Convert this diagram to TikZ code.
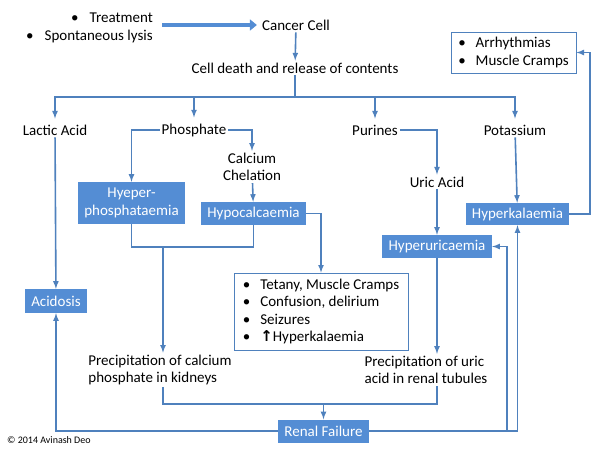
\documentclass[tikz,border=0pt]{standalone}
\usepackage{fontspec}
\setmainfont{Carlito}
\newfontfamily\symfont{DejaVu Sans}
\usetikzlibrary{arrows.meta}
\definecolor{boxblue}{RGB}{84,141,212}
\definecolor{lineblue}{RGB}{79,129,189}

\begin{document}
\begin{tikzpicture}[x=1pt,y=-1pt]
        \tikzset{every node/.style={font=\fontsize{15}{17.5}\selectfont,inner sep=2pt},
          link/.style={draw=lineblue,line width=1.6pt},
          bluebox/.style={fill=boxblue,text=white,align=center,minimum height=23pt,inner sep=1pt},
          listbox/.style={draw=lineblue,line width=0.8pt,fill=white,align=left,inner xsep=7pt,inner ysep=4pt}};
        \useasboundingbox (0,0) rectangle (600,450);
        \node[anchor=east,align=right] (cause) at (155,28) {\textbullet\hspace{11pt}Treatment\\\textbullet\hspace{11pt}Spontaneous lysis};
        \node (cancer) at (296,25) {Cancer Cell};
        \node (death) at (295,68) {Cell death and release of contents};
        \coordinate (split) at (295,97);
        \node (lactic) at (55,130) {Lactic Acid};
        \node (phos) at (194,130) {Phosphate};
        \node (purines) at (375,130) {Purines};
        \node (potas) at (515,130) {Potassium};
        \node[bluebox,minimum width=107pt,minimum height=42pt] (hyperphos) at (131.5,203) {Hyeper-\\phosphataemia};
        \node[align=center] (calcium) at (252,167) {Calcium\\Chelation};
        \node[bluebox,minimum width=105pt] (hypocal) at (253.5,213.5) {Hypocalcaemia};
        \node[listbox,minimum width=174pt,minimum height=77pt] (effects) at (321,311.5) {\textbullet\hspace{10pt}Tetany, Muscle Cramps\\\textbullet\hspace{10pt}Confusion, delirium\\\textbullet\hspace{10pt}Seizures\\\textbullet\hspace{10pt}{\symfont\bfseries ↑}Hyperkalaemia};
        \node[align=left] (precipca) at (160,370) {Precipitation of calcium\\phosphate in kidneys};
        \node[align=left] (precipur) at (426,370) {Precipitation of uric\\acid in renal tubules};
        \node[bluebox,minimum width=91pt] (renal) at (323.5,431) {Renal Failure};
        \node[bluebox,minimum width=62pt,minimum height=24pt] (acidosis) at (56,301) {Acidosis};
        \node (uric) at (437,182) {Uric Acid};
        \node[bluebox,minimum width=110pt] (hyperuric) at (437,246.5) {Hyperuricaemia};
        \node[bluebox,minimum width=103pt,minimum height=22pt] (hyperkal) at (517.5,214) {Hyperkalaemia};
        \node[listbox,minimum width=125pt,minimum height=41pt] (arrhy) at (513.5,52.5) {\textbullet\hspace{10pt}Arrhythmias\\\textbullet\hspace{10pt}Muscle Cramps};
        \node[anchor=west,font=\fontsize{10}{12}\selectfont] (copy) at (5,440) {\textcopyright{} 2014 Avinash Deo};
        \coordinate (caj) at (163,247);
        \coordinate (rfj) at (323.5,404);
        \coordinate (ukj) at (507,431);
        \coordinate (kaj) at (590,214);
        \draw[draw=boxblue,line width=4.5pt,-{Triangle[length=7pt,width=11pt]},shorten <=7pt,shorten >=3pt] (cause.east |- cancer) -- (cancer.west);
        \draw[link,-latex] (cancer) -- (death);
        \draw[link] (death) -- (split);
        \foreach \n in {lactic,phos,purines,potas}
          \draw[link,-latex,shorten >=4pt] (split) -| (\n);
        \draw[link,-latex] (phos.west) -| (hyperphos);
        \draw[link,-latex] (phos.east) -| (calcium);
        \draw[link,-latex] (calcium) -- (hypocal);
        \draw[link] (hyperphos) |- (caj) -| (hypocal);
        \draw[link,-latex] (caj) -- (caj |- precipca.north);
        \draw[link,-latex] (hypocal) -| (effects);
        \draw[link,-latex] (lactic) -- (acidosis);
        \draw[link,-latex] (purines) -| (uric);
        \draw[link,-latex] (uric) -- (hyperuric);
        \draw[link,-latex] (potas) -- (hyperkal);
        \draw[link,-latex] (hyperuric) -- (hyperuric |- precipur.north);
        \draw[link] (caj |- precipca.south) |- (rfj) -| (hyperuric |- precipur.south);
        \draw[link,-latex] (rfj) -- (renal);
        \draw[link,-latex] (renal) -| (acidosis);
        \draw[link,-latex] (renal) -| (hyperkal);
        \draw[link,-latex] (ukj) |- (hyperuric);
        \draw[link,-latex] (hyperkal) -- (kaj) |- (arrhy);
\end{tikzpicture}
\end{document}
